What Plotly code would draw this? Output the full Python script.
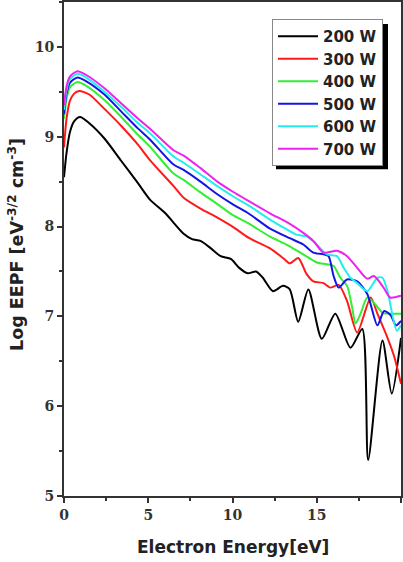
import plotly.graph_objects as go

# ---- data ----
labels = ["200 W", "300 W", "400 W", "500 W", "600 W", "700 W"]
colors = ["#000000", "#ff1a1a", "#33ee33", "#1414e6", "#22eeee", "#ee22ee"]

e_200 = [0, 0.15, 0.35, 0.6, 0.95, 1.5, 2.4, 3.4, 4.4, 5.1, 6.0, 7.1, 7.6, 8.1, 8.7, 9.3,
         9.9, 10.4, 10.9, 11.4, 11.8, 12.4, 13.0, 13.4, 13.9, 14.5, 15.3, 16.1, 17.0, 17.7,
         18.05, 18.9, 19.45, 20.0]
y_200 = [8.55, 8.82, 9.05, 9.17, 9.22, 9.15, 8.98, 8.73, 8.48, 8.30, 8.15, 7.92, 7.86, 7.84,
         7.76, 7.67, 7.64, 7.54, 7.48, 7.50, 7.43, 7.28, 7.34, 7.30, 6.94, 7.30, 6.75, 7.03,
         6.65, 6.86, 5.40, 6.73, 6.14, 6.76]

e_300 = [0, 0.15, 0.35, 0.6, 0.9, 1.5, 2.4, 3.4, 4.4, 5.1, 6.5, 7.1, 8.1, 9.1, 10.0, 11.0,
         12.2, 13.0, 13.4, 13.9, 14.4, 14.8, 15.4, 15.8, 16.3, 16.8, 17.4, 18.2, 18.6, 19.2,
         19.6, 20.0]
y_300 = [8.88, 9.20, 9.40, 9.48, 9.51, 9.47, 9.31, 9.12, 8.91, 8.74, 8.45, 8.32, 8.20, 8.10,
         8.00, 7.87, 7.76, 7.65, 7.59, 7.65, 7.47, 7.39, 7.37, 7.32, 7.35, 7.17, 6.82, 7.21,
         7.03, 6.76, 6.55, 6.25]

e_400 = [0, 0.15, 0.35, 0.8, 1.3, 2.4, 3.4, 4.4, 5.1, 6.5, 7.1, 8.1, 9.1, 10.0, 11.0, 12.2,
         13.2, 14.2, 15.0, 15.6, 16.0, 16.4, 16.8, 17.1, 17.3, 17.6, 18.0, 18.4, 18.9, 19.35,
         20.0]
y_400 = [9.20, 9.42, 9.55, 9.61, 9.57, 9.41, 9.22, 9.02, 8.89, 8.59, 8.52, 8.38, 8.25, 8.13,
         8.03, 7.89, 7.80, 7.69, 7.60, 7.58, 7.56, 7.43, 7.34, 7.10, 6.92, 7.03, 7.21, 7.15,
         7.04, 7.03, 7.03]

e_500 = [0, 0.15, 0.35, 0.8, 1.3, 2.4, 3.4, 4.4, 5.1, 6.5, 7.1, 8.1, 9.1, 10.0, 11.0, 12.2,
         13.4, 14.2, 14.8, 15.4, 15.7, 16.0, 16.3, 16.8, 17.4, 18.0, 18.6, 19.0, 19.4, 19.7,
         20.0]
y_500 = [9.25, 9.48, 9.60, 9.66, 9.62, 9.47, 9.28, 9.09, 8.97, 8.69, 8.63, 8.50, 8.36, 8.25,
         8.14, 7.98, 7.87, 7.80, 7.71, 7.69, 7.67, 7.45, 7.32, 7.41, 7.39, 7.25, 6.90, 7.06,
         7.01, 6.90, 6.95]

e_600 = [0, 0.15, 0.35, 0.8, 1.3, 2.4, 3.4, 4.4, 5.1, 6.5, 7.1, 8.1, 9.1, 10.0, 11.0, 12.2,
         13.2, 13.8, 14.4, 15.0, 15.6, 16.2, 16.6, 17.0, 17.4, 18.0, 18.6, 18.9, 19.2, 19.75,
         20.0]
y_600 = [9.30, 9.52, 9.64, 9.70, 9.66, 9.50, 9.33, 9.15, 9.04, 8.78, 8.71, 8.58, 8.45, 8.34,
         8.23, 8.08, 7.97, 7.91, 7.89, 7.80, 7.69, 7.67, 7.54, 7.43, 7.37, 7.28, 7.43, 7.43,
         7.28, 6.84, 6.90]

e_700 = [0, 0.15, 0.35, 0.8, 1.3, 2.4, 3.4, 4.4, 5.1, 6.5, 7.1, 8.1, 9.1, 10.0, 11.0, 12.2,
         13.4, 14.2, 14.8, 15.4, 16.2, 16.8, 17.4, 18.0, 18.4, 19.0, 19.35, 20.0]
y_700 = [9.35, 9.56, 9.67, 9.73, 9.69, 9.54, 9.37, 9.20, 9.09, 8.85, 8.79, 8.65, 8.50, 8.39,
         8.28, 8.15, 8.03, 7.93, 7.84, 7.71, 7.73, 7.67, 7.54, 7.42, 7.45, 7.31, 7.21, 7.23]

x_ticks = [0, 5, 10, 15, 20]
y_ticks = [5, 6, 7, 8, 9, 10]

series = [(e_200, y_200), (e_300, y_300), (e_400, y_400),
          (e_500, y_500), (e_600, y_600), (e_700, y_700)]

W, H = 403, 562
ML, MR, MT, MB = 64, 2, 0, 66
PW, PH = W - ML - MR, H - MT - MB


def px(xp):
    return (xp - ML) / PW


def py(yp):
    return 1 - (yp - MT) / PH


fig = go.Figure()
for (ex, ey), name, col in zip(series, labels, colors):
    fig.add_trace(go.Scatter(
        x=ex, y=ey, mode="lines", name=name,
        line=dict(color=col, width=2, shape="spline", smoothing=0.7),
    ))

tickfont = dict(family="DejaVu Serif", size=14, color="#333333", weight="bold")
axis_common = dict(showgrid=False, zeroline=False, linecolor="#333333", linewidth=2,
                   tickcolor="#333333", tickwidth=1.5)

fig.update_layout(
    width=W, height=H,
    margin=dict(l=ML, r=MR, t=MT, b=MB, pad=0),
    paper_bgcolor="white", plot_bgcolor="white",
    showlegend=True,
    xaxis=dict(range=[0, 20], tickvals=x_ticks, ticks="outside", ticklen=5,
               showline=True, mirror=True, tickfont=tickfont,
               minor=dict(dtick=2.5, ticks="outside", ticklen=3, tickcolor="#333333"),
               **axis_common),
    yaxis=dict(range=[5, 10.5], tickvals=y_ticks, ticks="outside", ticklen=5,
               showline=True, mirror=True, tickfont=tickfont,
               minor=dict(dtick=0.5, ticks="outside", ticklen=3, tickcolor="#333333"),
               **axis_common),
    xaxis2=dict(range=[0, 20], overlaying="x", anchor="y", side="top", tickvals=x_ticks,
                ticks="inside", ticklen=5, showticklabels=False, showline=False,
                minor=dict(dtick=2.5, ticks="inside", ticklen=3, tickcolor="#333333"),
                showgrid=False, zeroline=False, tickcolor="#333333", tickwidth=1.5),
    yaxis2=dict(range=[5, 10.5], overlaying="y", anchor="x", side="right", tickvals=y_ticks,
                ticks="inside", ticklen=5, showticklabels=False, showline=False,
                minor=dict(dtick=0.5, ticks="inside", ticklen=3, tickcolor="#333333"),
                showgrid=False, zeroline=False, tickcolor="#333333", tickwidth=1.5),
    legend=dict(x=px(383), y=py(17), xanchor="right", yanchor="top",
                bgcolor="white", bordercolor="#888888", borderwidth=1,
                font=dict(family="DejaVu Sans", size=15, color="#222222", weight="bold"),
                itemwidth=40, tracegroupgap=0),
    shapes=[dict(type="rect", xref="paper", yref="paper",
                 x0=px(276), x1=px(388), y0=py(168), y1=py(22),
                 fillcolor="black", line=dict(width=0), layer="above")],
    annotations=[
        dict(text="Electron Energy[eV]", xref="paper", yref="paper",
             x=px(233), y=py(547), xanchor="center", yanchor="middle", showarrow=False,
             font=dict(family="DejaVu Sans", size=17, color="#222222", weight="bold")),
        dict(text="Log EEPF [eV<sup>-3/2</sup> cm<sup>-3</sup>]", xref="paper", yref="paper",
             x=px(16), y=py(244), xanchor="center", yanchor="middle", showarrow=False,
             textangle=-90,
             font=dict(family="DejaVu Sans", size=17.5, color="#222222", weight="bold")),
    ],
)

fig.write_html("out.html")
